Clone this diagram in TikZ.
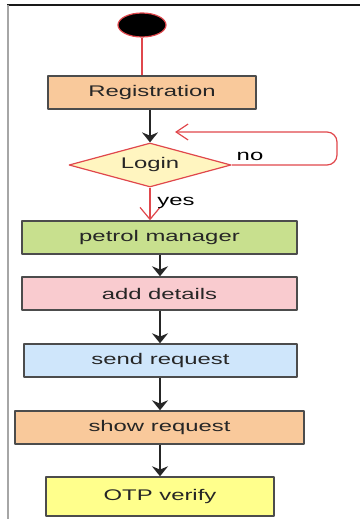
\documentclass[tikz,border=0pt]{standalone}
\usepackage{fontspec}
\setmainfont{Liberation Sans}[FakeStretch=1.55]
\usetikzlibrary{shapes.geometric,arrows.meta}
\definecolor{redline}{HTML}{E0474C}
\definecolor{orangefill}{HTML}{F9C99B}
\definecolor{greenfill}{HTML}{C8E08E}
\definecolor{pinkfill}{HTML}{F9CBCF}
\definecolor{bluefill}{HTML}{CFE6FB}
\definecolor{yellowfill}{HTML}{FFFF8C}
\definecolor{loginfill}{HTML}{FFF5C0}
\begin{document}
\begin{tikzpicture}[x=0.5pt, y=-0.5pt, font=\fontsize{7.7}{9}\selectfont, line join=round,
    act/.style={draw=black!70, line width=0.7pt, text=black!85, minimum height=16.5pt, inner sep=0pt},
    flow/.style={draw=black!85, line width=0.75pt, -{Stealth[length=5pt,width=8pt]}},
    redflow/.style={draw=redline, line width=0.6pt}]
    \useasboundingbox (0,0) rectangle (360,519);
    \draw[black!90, line width=0.8pt] (7,5)--(360,5); % frame
    \draw[gray!70, line width=1pt] (7.5,5)--(7.5,519);
    % nodes
    \node[ellipse, fill=black, draw=redline, line width=0.6pt, minimum width=24pt, minimum height=12pt, inner sep=0pt] (start) at (142,25) {};
    \node[act, fill=orangefill, minimum width=104pt] (reg) at (152,92.5) {Registration};
    \node[diamond, draw=redline, line width=0.6pt, fill=loginfill, text=black!85, shape aspect=3.7, minimum width=81pt, minimum height=22pt, inner sep=0pt] (login) at (150,165) {Login};
    \node[act, fill=greenfill, minimum width=137.5pt] (pm) at (159.5,237.5) {petrol manager};
    \node[act, fill=pinkfill, minimum width=137.5pt] (ad) at (159.5,293.5) {add details};
    \node[act, fill=bluefill, minimum width=136.5pt] (sr) at (160.5,360.5) {send request};
    \node[act, fill=orangefill, minimum width=144.5pt] (shr) at (159.5,427.5) {show request};
    \node[act, fill=yellowfill, minimum width=114pt, minimum height=19.5pt] (otp) at (160,496.5) {OTP verify};
    \coordinate (back) at (175,132);
    \coordinate (col) at (160,0);
    % connectors
    \draw[redflow] (start.south) -- (start.south |- reg.north);
    \draw[flow] (reg.south -| login.north) -- (login.north);
    \draw[redflow, rounded corners=5pt, -{Straight Barb[length=6pt,width=8pt]}] (login.east) -- (337,165) -- (337,132) -- (back);
    \node (no) at (250,156) {no};
    \draw[redflow, -{Straight Barb[length=6pt,width=10pt]}] (login.south) -- (login.south |- pm.north);
    \node[anchor=base west, inner sep=0pt] (yes) at (157,205) {yes};
    \draw[flow] (pm.south -| col) -- (ad.north -| col);
    \draw[flow] (ad.south -| col) -- (sr.north -| col);
    \draw[flow] (sr.south -| col) -- (shr.north -| col);
    \draw[flow] (shr.south -| col) -- (otp.north);
\end{tikzpicture}
\end{document}
